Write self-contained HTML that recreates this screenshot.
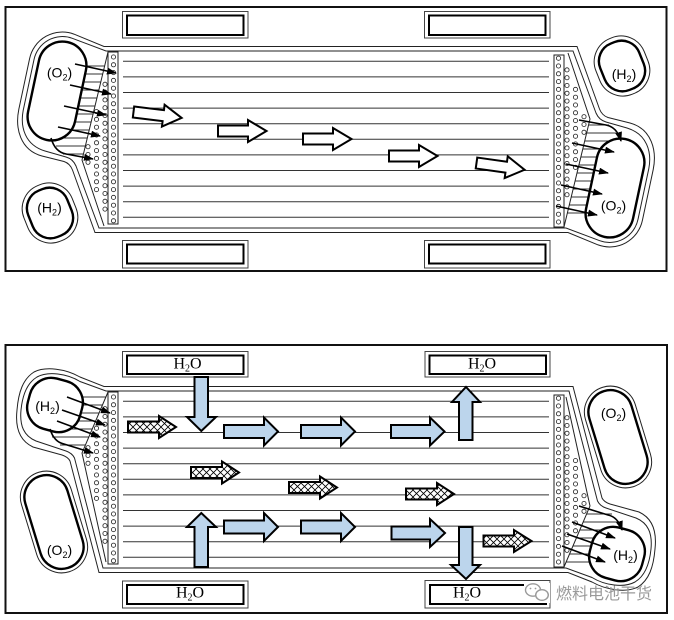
<!DOCTYPE html>
<html>
<head>
<meta charset="utf-8">
<style>
html,body{margin:0;padding:0;background:#fff;}
svg{display:block;}
</style>
</head>
<body>
<svg width="674" height="620" viewBox="0 0 674 620" xmlns="http://www.w3.org/2000/svg" xmlns:xlink="http://www.w3.org/1999/xlink">
<defs>
  <marker id="ah" viewBox="0 0 10 7" refX="9" refY="3.5" markerWidth="10" markerHeight="7" markerUnits="userSpaceOnUse" orient="auto">
    <path d="M0,0 L10,3.5 L0,7 z" fill="#000"/>
  </marker>
  <pattern id="xh" patternUnits="userSpaceOnUse" width="7" height="7">
    <rect width="7" height="7" fill="#fff"/>
    <path d="M0,0 L7,7 M7,0 L0,7" stroke="#000" stroke-width="0.8"/>
  </pattern>

  <!-- Top panel, left manifold -->
  <g id="tl">
    <g stroke="#333" stroke-width="0.9">
      <line x1="50" y1="66" x2="104.6" y2="66"/>
      <line x1="50" y1="74" x2="102.7" y2="74"/>
      <line x1="50" y1="82" x2="100.8" y2="82"/>
      <line x1="50" y1="90" x2="98.9" y2="90"/>
      <line x1="50" y1="98" x2="96.9" y2="98"/>
      <line x1="50" y1="106" x2="95" y2="106"/>
      <line x1="50" y1="114" x2="93.1" y2="114"/>
      <line x1="50" y1="122" x2="91.2" y2="122"/>
      <line x1="50" y1="130" x2="89.2" y2="130"/>
      <line x1="50" y1="138" x2="87.3" y2="138"/>
      <line x1="56" y1="146" x2="85.4" y2="146"/>
      <line x1="63" y1="154" x2="83.4" y2="154"/>
    </g>
    <g fill="none" stroke="#222" stroke-width="1">
      <path d="M336 46.5 H104 L73.9 34.1 A33.5 33.5 0 0 0 29.6 58.6 L18.8 109.4 C15 128 20 150 42 156 L64 161.5 Q70 163.5 72.5 170 L95 232.5 H336"/>
      <path d="M336 51 H106 L72.3 38.3 A29 29 0 0 0 34 59.6 L23.2 110.4 C20 127 25 145 45 151 L66 157 Q73 159 76 166 L99 228 H336"/>
      <path d="M108 52 L82 160 L104 226"/>
      <rect x="108" y="52" width="10" height="172"/>
    </g>
    <g fill="#fff" stroke="#222" stroke-width="0.8">
      <circle cx="113.5" cy="57" r="2.1"/><circle cx="113.5" cy="64.8" r="2.1"/><circle cx="113.5" cy="72.6" r="2.1"/><circle cx="113.5" cy="80.4" r="2.1"/><circle cx="113.5" cy="88.2" r="2.1"/><circle cx="113.5" cy="96" r="2.1"/><circle cx="113.5" cy="103.8" r="2.1"/><circle cx="113.5" cy="111.6" r="2.1"/><circle cx="113.5" cy="119.4" r="2.1"/><circle cx="113.5" cy="127.2" r="2.1"/><circle cx="113.5" cy="135" r="2.1"/><circle cx="113.5" cy="142.8" r="2.1"/><circle cx="113.5" cy="150.6" r="2.1"/><circle cx="113.5" cy="158.4" r="2.1"/><circle cx="113.5" cy="166.2" r="2.1"/><circle cx="113.5" cy="174" r="2.1"/><circle cx="113.5" cy="181.8" r="2.1"/><circle cx="113.5" cy="189.6" r="2.1"/><circle cx="113.5" cy="197.4" r="2.1"/><circle cx="113.5" cy="205.2" r="2.1"/><circle cx="113.5" cy="213" r="2.1"/><circle cx="113.5" cy="220.8" r="2.1"/>
      <circle cx="105" cy="84.3" r="2.1"/><circle cx="105" cy="92.1" r="2.1"/><circle cx="105" cy="99.9" r="2.1"/><circle cx="105" cy="107.7" r="2.1"/><circle cx="105" cy="115.5" r="2.1"/><circle cx="105" cy="123.3" r="2.1"/><circle cx="105" cy="131.1" r="2.1"/><circle cx="105" cy="138.9" r="2.1"/><circle cx="105" cy="146.7" r="2.1"/><circle cx="105" cy="154.5" r="2.1"/><circle cx="105" cy="162.3" r="2.1"/><circle cx="105" cy="170.1" r="2.1"/><circle cx="105" cy="177.9" r="2.1"/><circle cx="105" cy="185.7" r="2.1"/><circle cx="105" cy="193.5" r="2.1"/><circle cx="105" cy="201.3" r="2.1"/><circle cx="105" cy="209.1" r="2.1"/>
      <circle cx="96.5" cy="111.6" r="2.1"/><circle cx="96.5" cy="119.4" r="2.1"/><circle cx="96.5" cy="127.2" r="2.1"/><circle cx="96.5" cy="135" r="2.1"/><circle cx="96.5" cy="142.8" r="2.1"/><circle cx="96.5" cy="150.6" r="2.1"/><circle cx="96.5" cy="158.4" r="2.1"/><circle cx="96.5" cy="166.2" r="2.1"/><circle cx="96.5" cy="174" r="2.1"/><circle cx="96.5" cy="181.8" r="2.1"/><circle cx="96.5" cy="189.6" r="2.1"/>
      <circle cx="88" cy="146.7" r="2.1"/><circle cx="88" cy="154.5" r="2.1"/><circle cx="88" cy="162.3" r="2.1"/>
    </g>
    <rect x="33" y="41" width="48" height="100" rx="24" ry="24" transform="rotate(12 57 91)" fill="#fff" stroke="#000" stroke-width="2.4"/>
    <rect x="24" y="183" width="52" height="60" rx="25" ry="25" transform="rotate(-22 50 213)" fill="#fff" stroke="#222" stroke-width="1"/>
    <rect x="29" y="188" width="42" height="50" rx="19" ry="19" transform="rotate(-22 50 213)" fill="#fff" stroke="#000" stroke-width="2.4"/>
  </g>

  <!-- Bottom panel, left manifold -->
  <g id="bl">
    <g stroke="#333" stroke-width="0.9">
      <line x1="50" y1="397" x2="105.9" y2="397"/>
      <line x1="50" y1="405" x2="102.5" y2="405"/>
      <line x1="50" y1="413" x2="99.1" y2="413"/>
      <line x1="50" y1="421" x2="95.6" y2="421"/>
      <line x1="50" y1="429" x2="92.2" y2="429"/>
      <line x1="52" y1="437" x2="88.8" y2="437"/>
      <line x1="60" y1="445" x2="85.4" y2="445"/>
    </g>
    <g fill="none" stroke="#222" stroke-width="1">
      <path d="M336 386.5 H104 L80 377 C66 369 46 366 34 372 C23 379 18.5 392 17 410 C15 428 20 441 33 447 L62 455 Q68 457 70 461 L99 572.5 H336"/>
      <path d="M336 391 H106 L80 381.5 C67 373.5 48 371 37 377 C27 383 22.5 395 21 410 C19.5 426 24 436 36 441 L66 451 Q72 453 74.5 458 L103 568 H336"/>
      <path d="M108 392 L82 453 L106 562"/>
      <rect x="108" y="392" width="10" height="172"/>
    </g>
    <g fill="#fff" stroke="#222" stroke-width="0.8">
      <circle cx="113.5" cy="397" r="2.1"/><circle cx="113.5" cy="404.8" r="2.1"/><circle cx="113.5" cy="412.6" r="2.1"/><circle cx="113.5" cy="420.4" r="2.1"/><circle cx="113.5" cy="428.2" r="2.1"/><circle cx="113.5" cy="436" r="2.1"/><circle cx="113.5" cy="443.8" r="2.1"/><circle cx="113.5" cy="451.6" r="2.1"/><circle cx="113.5" cy="459.4" r="2.1"/><circle cx="113.5" cy="467.2" r="2.1"/><circle cx="113.5" cy="475" r="2.1"/><circle cx="113.5" cy="482.8" r="2.1"/><circle cx="113.5" cy="490.6" r="2.1"/><circle cx="113.5" cy="498.4" r="2.1"/><circle cx="113.5" cy="506.2" r="2.1"/><circle cx="113.5" cy="514" r="2.1"/><circle cx="113.5" cy="521.8" r="2.1"/><circle cx="113.5" cy="529.6" r="2.1"/><circle cx="113.5" cy="537.4" r="2.1"/><circle cx="113.5" cy="545.2" r="2.1"/><circle cx="113.5" cy="553" r="2.1"/><circle cx="113.5" cy="560.8" r="2.1"/>
      <circle cx="105" cy="408.7" r="2.1"/><circle cx="105" cy="416.5" r="2.1"/><circle cx="105" cy="424.3" r="2.1"/><circle cx="105" cy="432.1" r="2.1"/><circle cx="105" cy="439.9" r="2.1"/><circle cx="105" cy="447.7" r="2.1"/><circle cx="105" cy="455.5" r="2.1"/><circle cx="105" cy="463.3" r="2.1"/><circle cx="105" cy="471.1" r="2.1"/><circle cx="105" cy="478.9" r="2.1"/><circle cx="105" cy="486.7" r="2.1"/><circle cx="105" cy="494.5" r="2.1"/><circle cx="105" cy="502.3" r="2.1"/><circle cx="105" cy="510.1" r="2.1"/><circle cx="105" cy="517.9" r="2.1"/><circle cx="105" cy="525.7" r="2.1"/><circle cx="105" cy="533.5" r="2.1"/><circle cx="105" cy="541.3" r="2.1"/>
      <circle cx="96.5" cy="428.2" r="2.1"/><circle cx="96.5" cy="436" r="2.1"/><circle cx="96.5" cy="443.8" r="2.1"/><circle cx="96.5" cy="451.6" r="2.1"/><circle cx="96.5" cy="459.4" r="2.1"/><circle cx="96.5" cy="467.2" r="2.1"/><circle cx="96.5" cy="475" r="2.1"/><circle cx="96.5" cy="482.8" r="2.1"/><circle cx="96.5" cy="490.6" r="2.1"/><circle cx="96.5" cy="498.4" r="2.1"/>
      <circle cx="88" cy="447.7" r="2.1"/><circle cx="88" cy="455.5" r="2.1"/><circle cx="88" cy="463.3" r="2.1"/>
    </g>
    <rect x="28" y="379" width="54" height="52" rx="22" ry="22" transform="rotate(15 55 405)" fill="#fff" stroke="#000" stroke-width="2.4"/>
    <rect x="28" y="470" width="52" height="104" rx="26" ry="26" transform="rotate(-17 54 522)" fill="#fff" stroke="#222" stroke-width="1"/>
    <rect x="32" y="474" width="44" height="96" rx="22" ry="22" transform="rotate(-17 54 522)" fill="#fff" stroke="#000" stroke-width="2.4"/>
  </g>
</defs>

<rect width="674" height="620" fill="#fff"/>

<!-- ================= TOP PANEL ================= -->
<rect x="5.5" y="7" width="661" height="264" fill="none" stroke="#111" stroke-width="2"/>

<!-- boxes -->
<g fill="none">
  <rect x="122.5" y="11.5" width="125.5" height="26.5" stroke="#444" stroke-width="1"/>
  <rect x="127" y="15.5" width="116.5" height="19.5" stroke="#000" stroke-width="2"/>
  <rect x="424.5" y="11.5" width="125.5" height="26.5" stroke="#444" stroke-width="1"/>
  <rect x="429" y="15.5" width="116.5" height="19.5" stroke="#000" stroke-width="2"/>
  <rect x="122.5" y="240.5" width="125.5" height="27.5" stroke="#444" stroke-width="1"/>
  <rect x="127" y="244.5" width="116.5" height="19" stroke="#000" stroke-width="2"/>
  <rect x="424.5" y="240.5" width="125.5" height="27.5" stroke="#444" stroke-width="1"/>
  <rect x="429" y="244.5" width="116.5" height="19" stroke="#000" stroke-width="2"/>
</g>

<!-- channel lines -->
<g stroke="#333" stroke-width="1">
  <line x1="123" y1="61.3" x2="549" y2="61.3"/>
  <line x1="123" y1="76.9" x2="549" y2="76.9"/>
  <line x1="123" y1="92.5" x2="549" y2="92.5"/>
  <line x1="123" y1="108.1" x2="549" y2="108.1"/>
  <line x1="123" y1="123.7" x2="549" y2="123.7"/>
  <line x1="123" y1="139.3" x2="549" y2="139.3"/>
  <line x1="123" y1="154.9" x2="549" y2="154.9"/>
  <line x1="123" y1="170.5" x2="549" y2="170.5"/>
  <line x1="123" y1="186.1" x2="549" y2="186.1"/>
  <line x1="123" y1="201.7" x2="549" y2="201.7"/>
  <line x1="123" y1="217.3" x2="549" y2="217.3"/>
</g>

<use href="#tl" xlink:href="#tl"/>
<use href="#tl" xlink:href="#tl" transform="rotate(180 336 139.5)"/>

<!-- O2 arrows left (into strip) -->
<g stroke="#000" stroke-width="1.6" fill="none" marker-end="url(#ah)">
  <line x1="75" y1="64" x2="116" y2="73"/>
  <line x1="70" y1="85" x2="111" y2="94"/>
  <line x1="64" y1="106" x2="106" y2="115"/>
  <line x1="58" y1="127" x2="100" y2="136"/>
  <path d="M51 138 Q55 152 66 154 L93 159"/>
</g>
<!-- O2 arrows right (into oval) -->
<g stroke="#000" stroke-width="1.6" fill="none" marker-end="url(#ah)">
  <line x1="556" y1="206" x2="597" y2="215"/>
  <line x1="561" y1="185" x2="602" y2="194"/>
  <line x1="566" y1="164" x2="608" y2="173"/>
  <line x1="572" y1="143" x2="614" y2="152"/>
  <path d="M579 120 L606 125 Q617 127 621 141"/>
</g>

<!-- hollow flow arrows -->
<g fill="#fff" stroke="#000" stroke-width="2" stroke-linejoin="miter">
  <path transform="translate(133.5 112) rotate(7)" d="M0,-5.5 H30 V-11 L48.5,0 L30,11 V5.5 H0 Z"/>
  <path transform="translate(218 131)" d="M0,-5.5 H30 V-11 L48.5,0 L30,11 V5.5 H0 Z"/>
  <path transform="translate(303 139)" d="M0,-5.5 H30 V-11 L48.5,0 L30,11 V5.5 H0 Z"/>
  <path transform="translate(389 156)" d="M0,-5.5 H30 V-11 L48.5,0 L30,11 V5.5 H0 Z"/>
  <path transform="translate(476.5 163) rotate(8)" d="M0,-5.5 H30 V-11 L48.5,0 L30,11 V5.5 H0 Z"/>
</g>

<!-- labels top -->
<g font-family="'Liberation Sans', sans-serif" font-size="14" fill="#000" text-anchor="middle">
  <text x="59.5" y="77.5">(O<tspan font-size="9" dy="3">2</tspan><tspan dy="-3">)</tspan></text>
  <text x="49.5" y="212.5">(H<tspan font-size="9" dy="3">2</tspan><tspan dy="-3">)</tspan></text>
  <text x="624" y="79">(H<tspan font-size="9" dy="3">2</tspan><tspan dy="-3">)</tspan></text>
  <text x="613.5" y="210.5">(O<tspan font-size="9" dy="3">2</tspan><tspan dy="-3">)</tspan></text>
</g>

<!-- ================= BOTTOM PANEL ================= -->
<rect x="5.5" y="345" width="661.5" height="268" fill="none" stroke="#111" stroke-width="2"/>

<g fill="none">
  <rect x="122.5" y="351.5" width="125.5" height="25.5" stroke="#444" stroke-width="1"/>
  <rect x="127" y="355.5" width="116.5" height="18.5" stroke="#000" stroke-width="2"/>
  <rect x="425" y="351.5" width="125" height="25.5" stroke="#444" stroke-width="1"/>
  <rect x="429.5" y="355.5" width="116.5" height="18.5" stroke="#000" stroke-width="2"/>
  <rect x="122.5" y="581" width="125.5" height="27" stroke="#444" stroke-width="1"/>
  <rect x="127" y="585" width="116.5" height="19" stroke="#000" stroke-width="2"/>
  <rect x="425" y="580.5" width="125" height="27.5" stroke="#444" stroke-width="1"/>
  <rect x="430" y="585" width="116" height="19" stroke="#000" stroke-width="2"/>
</g>

<g stroke="#333" stroke-width="1">
  <line x1="123" y1="401.3" x2="549" y2="401.3"/>
  <line x1="123" y1="416.9" x2="549" y2="416.9"/>
  <line x1="123" y1="432.5" x2="549" y2="432.5"/>
  <line x1="123" y1="448.1" x2="549" y2="448.1"/>
  <line x1="123" y1="463.7" x2="549" y2="463.7"/>
  <line x1="123" y1="479.3" x2="549" y2="479.3"/>
  <line x1="123" y1="494.9" x2="549" y2="494.9"/>
  <line x1="123" y1="510.5" x2="549" y2="510.5"/>
  <line x1="123" y1="526.1" x2="549" y2="526.1"/>
  <line x1="123" y1="541.7" x2="549" y2="541.7"/>
  <line x1="123" y1="557.3" x2="549" y2="557.3"/>
</g>

<use href="#bl" xlink:href="#bl"/>
<use href="#bl" xlink:href="#bl" transform="rotate(180 336 479.5)"/>

<!-- H2 arrows left -->
<g stroke="#000" stroke-width="1.6" fill="none" marker-end="url(#ah)">
  <line x1="67" y1="397" x2="110" y2="413"/>
  <line x1="62" y1="410" x2="105" y2="425"/>
  <line x1="57" y1="421" x2="100" y2="437"/>
  <path d="M50 429 Q54 442 64 444 L93 453"/>
</g>
<!-- H2 arrows right -->
<g stroke="#000" stroke-width="1.6" fill="none" marker-end="url(#ah)">
  <line x1="562" y1="546" x2="605" y2="562"/>
  <line x1="567" y1="534" x2="610" y2="549"/>
  <line x1="572" y1="522" x2="615" y2="538"/>
  <path d="M579 506 L608 515 Q618 517 622 530"/>
</g>

<!-- blue water arrows -->
<g fill="#bcd5ec" stroke="#000" stroke-width="2" stroke-linejoin="miter">
  <polygon points="224,425 264,425 264,417.5 278,431.5 264,445.5 264,438 224,438"/>
  <polygon points="301,425 341,425 341,417.5 355,431.5 341,445.5 341,438 301,438"/>
  <polygon points="391,425 430,425 430,417.5 444.5,431.5 430,445.5 430,438 391,438"/>
  <polygon points="224,520.5 264,520.5 264,513 278,527 264,541 264,533.5 224,533.5"/>
  <polygon points="301,520.5 341,520.5 341,513 355,527 341,541 341,533.5 301,533.5"/>
  <polygon points="391.5,526.5 430,526.5 430,519 445,533 430,547 430,539.5 391.5,539.5"/>
  <!-- down left -->
  <polygon points="194.5,377 208,377 208,417 216,417 201.3,431 187,417 194.5,417"/>
  <!-- up left -->
  <polygon points="194.5,567 208,567 208,527 216,527 201.3,513 187,527 194.5,527"/>
  <!-- up right -->
  <polygon points="459,440 472.5,440 472.5,402 480,402 466,387 452,402 459,402"/>
  <!-- down right -->
  <polygon points="459,527 472.5,527 472.5,565 480,565 466,579 451,565 459,565"/>
</g>

<!-- crosshatch arrows -->
<g fill="url(#xh)" stroke="#000" stroke-width="2" stroke-linejoin="miter">
  <polygon points="128,421.5 159,421.5 159,416 176,427 159,438 159,432.5 128,432.5"/>
  <polygon points="191,467 222,467 222,461.5 239,472.5 222,483.5 222,478 191,478"/>
  <polygon points="289,482 320,482 320,476.5 337,487.5 320,498.5 320,493 289,493"/>
  <polygon points="406,488.5 437,488.5 437,483 454,494 437,505 437,499.5 406,499.5"/>
  <polygon points="483.5,535.5 514,535.5 514,530 531.5,541 514,552 514,546.5 483.5,546.5"/>
</g>

<!-- H2O texts -->
<g font-family="'Liberation Serif', serif" font-size="16" fill="#000" text-anchor="middle">
  <text x="187.5" y="368.5">H<tspan font-size="10" dy="3">2</tspan><tspan dy="-3">O</tspan></text>
  <text x="482" y="368.5">H<tspan font-size="10" dy="3">2</tspan><tspan dy="-3">O</tspan></text>
  <text x="190" y="597.5">H<tspan font-size="10" dy="3">2</tspan><tspan dy="-3">O</tspan></text>
  <text x="467" y="597.5">H<tspan font-size="10" dy="3">2</tspan><tspan dy="-3">O</tspan></text>
</g>

<!-- labels bottom -->
<g font-family="'Liberation Sans', sans-serif" font-size="14" fill="#000" text-anchor="middle">
  <text x="47.5" y="411">(H<tspan font-size="9" dy="3">2</tspan><tspan dy="-3">)</tspan></text>
  <text x="59.5" y="555">(O<tspan font-size="9" dy="3">2</tspan><tspan dy="-3">)</tspan></text>
  <text x="613.5" y="418">(O<tspan font-size="9" dy="3">2</tspan><tspan dy="-3">)</tspan></text>
  <text x="625.5" y="560">(H<tspan font-size="9" dy="3">2</tspan><tspan dy="-3">)</tspan></text>
</g>

<!-- watermark -->
<g>
  <rect x="524" y="583" width="26" height="20" fill="#fff"/>
  <ellipse cx="533" cy="590" rx="7.5" ry="6.2" fill="#fff" stroke="#9a9a9a" stroke-width="1.4"/>
  <ellipse cx="542" cy="595" rx="6.3" ry="5.3" fill="#fff" stroke="#9a9a9a" stroke-width="1.4"/>
  <circle cx="530.5" cy="588.5" r="0.9" fill="#9a9a9a"/>
  <circle cx="535.5" cy="588.5" r="0.9" fill="#9a9a9a"/>
  <text x="556" y="599" font-family="'Liberation Sans', 'Noto Sans CJK SC', sans-serif" font-size="16" fill="#9a9a9a">燃料电池干货</text>
</g>
</svg>
</body>
</html>
